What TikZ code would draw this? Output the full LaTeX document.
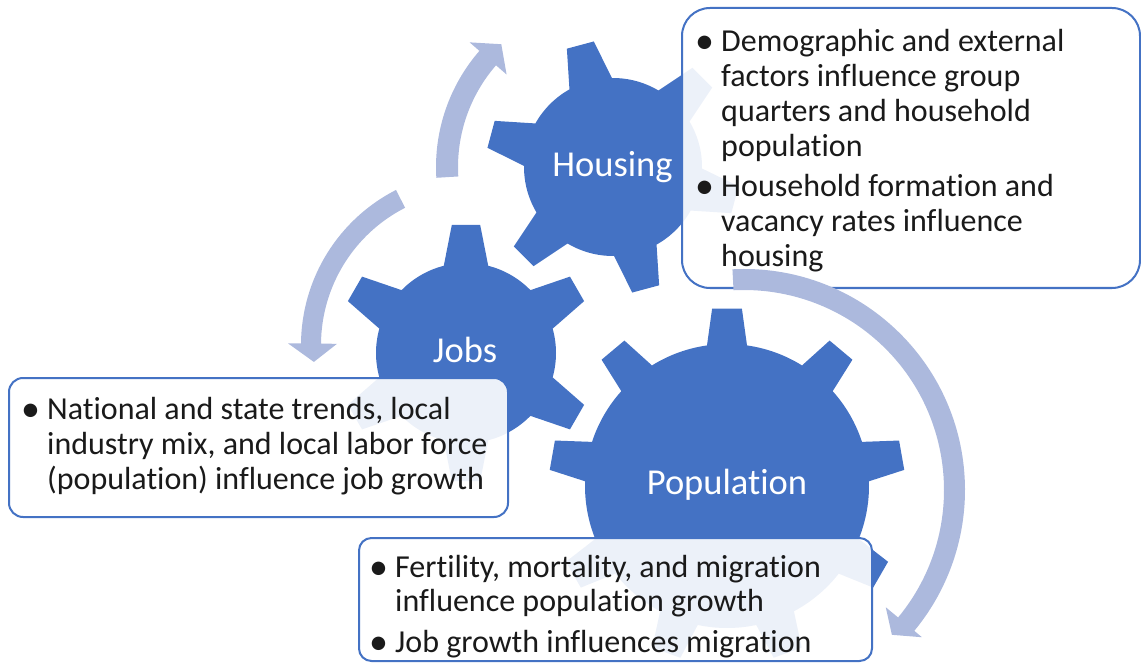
\documentclass[tikz,border=0pt]{standalone}
\usepackage{fontspec}
\setmainfont{Carlito}[Ligatures={NoCommon}]
\definecolor{gearblue}{HTML}{4472C4}
\definecolor{arrowblue}{RGB}{172,185,221}
\definecolor{textdark}{RGB}{26,26,26}
\tikzset{
  gearshape/.style={fill=gearblue, draw=none},
  gearlabel/.style={anchor=base, inner sep=0pt, text=white, font=\fontsize{36.5pt}{43pt}\selectfont},
  infobox/.style={draw=gearblue, line width=2pt, fill=white, fill opacity=0.9},
  bodyline/.style={anchor=base west, inner sep=0pt, text=textdark, font=\fontsize{32pt}{35pt}\selectfont},
  bulletmark/.style={anchor=base west, inner sep=0pt, text=textdark, font=\fontsize{38pt}{40pt}\selectfont},
  cyclearrow/.style={fill=arrowblue, draw=none},
}
\begin{document}
\begin{tikzpicture}[x=1pt,y=-1pt]
\useasboundingbox (0,0) rectangle (1141,663);

% ---------- gears ----------
% Housing (6 teeth)
\begin{scope}[shift={(613,167)}]
\fill[gearshape] (1:89)
  \foreach \k [evaluate=\k as \a using 15+60*\k-6.3,
               evaluate=\k as \b using 15+60*\k+6.3,
               evaluate=\k as \c using 15+60*\k+14.3,
               evaluate=\k as \d using 75+60*\k-14.3] in {0,...,5} {
    -- (\a:127) -- (\b:127) -- (\c:89) arc[start angle=\c, end angle=\d, radius=89]
  } -- cycle;
\end{scope}
% Jobs (6 teeth)
\begin{scope}[shift={(466,353)}]
\fill[gearshape] (15.7:90)
  \foreach \k [evaluate=\k as \a using 30+60*\k-6.3,
               evaluate=\k as \b using 30+60*\k+6.3,
               evaluate=\k as \c using 30+60*\k+14.3,
               evaluate=\k as \d using 90+60*\k-14.3] in {0,...,5} {
    -- (\a:129) -- (\b:129) -- (\c:90) arc[start angle=\c, end angle=\d, radius=90]
  } -- cycle;
\end{scope}
% Population (9 teeth)
\begin{scope}[shift={(727,486)}]
\fill[gearshape] (-18.1:142)
  \foreach \k [evaluate=\k as \a using -10+40*\k-4.8,
               evaluate=\k as \b using -10+40*\k+4.8,
               evaluate=\k as \c using -10+40*\k+8.1,
               evaluate=\k as \d using 30+40*\k-8.1] in {0,...,8} {
    -- (\a:178) -- (\b:178) -- (\c:142) arc[start angle=\c, end angle=\d, radius=142]
  } -- cycle;
\end{scope}

\node[gearlabel] (housing) at (612.5,177) {Housing};
\node[gearlabel] (jobs) at (465,362) {Jobs};
\node[gearlabel] (population) at (727,494) {Population};

% ---------- text boxes ----------
\draw[infobox, rounded corners=28pt] (682,8) rectangle (1140,288);
\draw[infobox, rounded corners=14pt] (9,378) rectangle (508,517);
\draw[infobox, rounded corners=12.5pt] (359,538) rectangle (872,661);

% Housing box
\node[bulletmark] (hb1) at (695,54) {•};
\node[bodyline] (h1) at (721,52) {Demographic and external};
\node[bodyline] (h2) at (721,87) {factors influence group};
\node[bodyline] (h3) at (721,122) {quarters and household};
\node[bodyline] (h4) at (721,157) {population};
\node[bulletmark] (hb2) at (695,199) {•};
\node[bodyline] (h5) at (721,197) {Household formation and};
\node[bodyline] (h6) at (721,232) {vacancy rates influence};
\node[bodyline] (h7) at (721,267) {housing};

% Jobs box
\node[bulletmark] (jb1) at (21,421) {•};
\node[bodyline] (j1) at (47,419) {National and state trends, local};
\node[bodyline] (j2) at (47,454) {industry mix, and local labor force};
\node[bodyline] (j3) at (47,489) {(population) influence job growth};

% Population box
\node[bulletmark] (pb1) at (369,579) {•};
\node[bodyline] (p1) at (395,577) {Fertility, mortality, and migration};
\node[bodyline] (p2) at (395,611) {influence population growth};
\node[bulletmark] (pb2) at (369,654) {•};
\node[bodyline] (p3) at (395,652) {Job growth influences migration};

% ---------- circular arrows ----------
\begin{scope}[shift={(613,167)}]
\fill[cyclearrow] (176.5:177) arc[start angle=176.5, end angle=221, radius=177]
  -- (221:190) -- (227.7:166) -- (221:141) -- (221:155)
  arc[start angle=221, end angle=176.5, radius=155] -- cycle;
\end{scope}
\begin{scope}[shift={(475,345)}]
\fill[cyclearrow] (-117:174) arc[start angle=-117, end angle=-179.5, radius=174]
  -- (-179.5:187) -- (-186:162) -- (-179.5:138) -- (-179.5:154)
  arc[start angle=-179.5, end angle=-117, radius=154] -- cycle;
\end{scope}
\begin{scope}[shift={(744,490)}]
\fill[cyclearrow] (-93:221) arc[start angle=-93, end angle=39.6, radius=221]
  -- (39.6:231) -- (44.4:207) -- (39.6:184) -- (39.6:200)
  arc[start angle=39.6, end angle=-93, radius=200] -- cycle;
\end{scope}
\end{tikzpicture}
\end{document}
